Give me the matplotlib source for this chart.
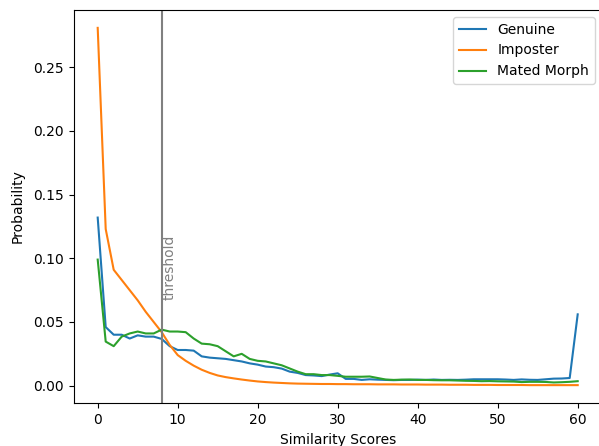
import matplotlib
matplotlib.use("Agg")
import matplotlib.pyplot as plt
import numpy as np

scores = list(range(61))

genuine = [0.132, 0.046, 0.040, 0.040, 0.037, 0.0395, 0.0385, 0.0385, 0.0367, 0.031,
           0.028, 0.028, 0.0275, 0.023, 0.022, 0.0215, 0.021, 0.020, 0.019, 0.0175,
           0.0165, 0.015, 0.0145, 0.0134, 0.011, 0.010, 0.0083, 0.008, 0.0075, 0.0087,
           0.0097, 0.0053, 0.0053, 0.0045, 0.005, 0.0047, 0.0045, 0.0043, 0.0045, 0.0045,
           0.0047, 0.0045, 0.0048, 0.0045, 0.0046, 0.0045, 0.0047, 0.005, 0.005, 0.005,
           0.005, 0.0048, 0.0045, 0.0049, 0.0046, 0.0045, 0.005, 0.0055, 0.0056, 0.006,
           0.056]

imposter = [0.281, 0.123, 0.091, 0.083, 0.075, 0.067, 0.058, 0.050, 0.042, 0.032,
            0.024, 0.0195, 0.0157, 0.0125, 0.010, 0.008, 0.0067, 0.0057, 0.0048, 0.004,
            0.0033, 0.0028, 0.0024, 0.0021, 0.0018, 0.0016, 0.0015, 0.0014, 0.0013, 0.0013,
            0.0012, 0.0012, 0.0011, 0.0011, 0.0011, 0.001, 0.001, 0.001, 0.0009, 0.0009,
            0.0009, 0.0008, 0.0008, 0.0008, 0.0007, 0.0007, 0.0007, 0.0006, 0.0006, 0.0006,
            0.0005, 0.0005, 0.0005, 0.0005, 0.0004, 0.0004, 0.0004, 0.0004, 0.0004, 0.0004,
            0.0004]

mated_morph = [0.099, 0.0346, 0.031, 0.0385, 0.041, 0.0425, 0.041, 0.041, 0.044, 0.0425,
               0.0425, 0.042, 0.037, 0.033, 0.0325, 0.031, 0.027, 0.023, 0.025, 0.021,
               0.0195, 0.019, 0.0175, 0.016, 0.0135, 0.011, 0.009, 0.009, 0.0083, 0.0083,
               0.0077, 0.007, 0.007, 0.007, 0.0072, 0.006, 0.0048, 0.0045, 0.0047, 0.0048,
               0.0045, 0.0045, 0.0043, 0.0042, 0.0042, 0.004, 0.0038, 0.0037, 0.0035, 0.0036,
               0.0034, 0.0033, 0.0032, 0.0028, 0.003, 0.003, 0.0029, 0.0025, 0.0027, 0.003,
               0.0035]

threshold = 8

fig = plt.figure(figsize=(5.99, 4.46), dpi=100)
ax = fig.add_axes([73.7/599, 43/446, 528/599, 393/446])
ax.plot(scores, genuine, label="Genuine")
ax.plot(scores, imposter, label="Imposter")
ax.plot(scores, mated_morph, label="Mated Morph")
ax.axvline(threshold, color="gray")
ax.text(threshold + 0.15, 0.067, "threshold", rotation=90, color="gray",
        ha="left", va="bottom")
ax.set_xlabel("Similarity Scores", labelpad=4.5)
ax.set_ylabel("Probability", labelpad=6)
ax.legend(loc="upper right")
fig.savefig("out.png", dpi=100)
